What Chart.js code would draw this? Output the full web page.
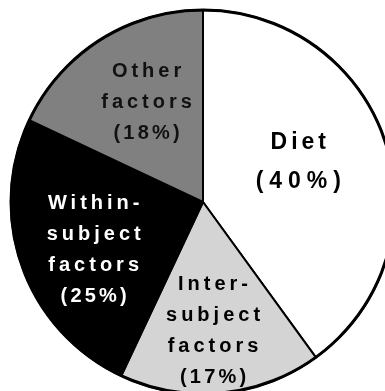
<!DOCTYPE html>
<html>
<head>
<meta charset="utf-8">
<script src="https://cdn.jsdelivr.net/npm/chart.js@4.4.1/dist/chart.umd.min.js"></script>
<style>
  html, body { margin: 0; padding: 0; background: #ffffff; overflow: hidden; width: 385px; height: 391px; }
  #wrap { position: absolute; left: 0; top: 0; width: 406px; height: 404px; }
</style>
</head>
<body>
<div id="wrap"><canvas id="pie"></canvas></div>
<script>
// Sources of variation, in percent, clockwise from 12 o'clock
const categories = ['Diet', 'Inter-subject factors', 'Within-subject factors', 'Other factors'];
const labelLines = [['Diet'], ['Inter-', 'subject', 'factors'], ['Within-', 'subject', 'factors'], ['Other', 'factors']];
const shares = [40, 17, 25, 18];

const sliceColors = ['#ffffff', '#d4d4d4', '#000000', '#808080'];
const textColors = ['#000000', '#000000', '#ffffff', '#111111'];
const fontSizes = [23, 20, 20, 20];
const wordSpacing = [4, 4, 4, 4];
const pctSpacing = [6, 3.2, 3.2, 3.2];
// label shift from each slice's centroid, px
const labelShift = [[4, -10], [1, 33], [-19, 15], [-5, -18]];

const sliceLabels = {
  id: 'sliceLabels',
  afterDatasetsDraw(chart) {
    const ctx = chart.ctx;
    const meta = chart.getDatasetMeta(0);
    const first = meta.data[0];
    // heavier outer rim
    ctx.save();
    ctx.beginPath();
    ctx.arc(first.x, first.y, first.outerRadius, 0, Math.PI * 2);
    ctx.lineWidth = 3;
    ctx.strokeStyle = '#000000';
    ctx.stroke();
    ctx.restore();

    meta.data.forEach((arc, i) => {
      const p = arc.tooltipPosition();
      const words = labelLines[i];
      const lines = words.concat(['(' + shares[i] + '%)']);
      const size = fontSizes[i];
      const lh = i === 0 ? 39 : 31;
      const cx = p.x + labelShift[i][0];
      const cy = p.y + labelShift[i][1];
      ctx.save();
      ctx.font = 'bold ' + size + 'px "Liberation Sans", Arial, sans-serif';
      ctx.fillStyle = textColors[i];
      ctx.textAlign = 'center';
      ctx.textBaseline = 'middle';
      const top = cy - (lines.length - 1) * lh / 2;
      lines.forEach((t, k) => {
        const sp = k < words.length ? wordSpacing[i] : pctSpacing[i];
        ctx.letterSpacing = sp + 'px';
        ctx.fillText(t, cx + sp / 2, top + k * lh);
      });
      ctx.restore();
    });
  }
};

new Chart(document.getElementById('pie'), {
  type: 'pie',
  data: {
    labels: categories,
    datasets: [{
      data: shares,
      backgroundColor: sliceColors,
      borderColor: '#000000',
      borderWidth: 2,
      borderAlign: 'center'
    }]
  },
  options: {
    responsive: true,
    maintainAspectRatio: false,
    animation: false,
    radius: 192,
    layout: { padding: 0 },
    plugins: {
      legend: { display: false },
      tooltip: { enabled: false }
    }
  },
  plugins: [sliceLabels]
});
</script>
</body>
</html>
